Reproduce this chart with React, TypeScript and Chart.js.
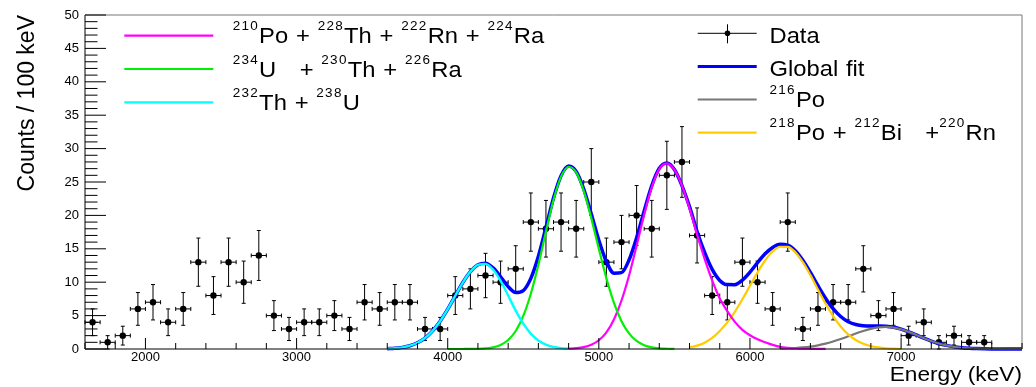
import React, { useEffect, useRef } from "react";
import { Chart, registerables } from "chart.js";

Chart.register(...registerables);

// ---------------- data ----------------
const BIN_CENTERS = [
  1650, 1750, 1850, 1950, 2050, 2150, 2250, 2350, 2450, 2550, 2650, 2750, 2850, 2950, 3050,
  3150, 3250, 3350, 3450, 3550, 3650, 3750, 3850, 3950, 4050, 4150, 4250, 4350, 4450, 4550,
  4650, 4750, 4850, 4950, 5050, 5150, 5250, 5350, 5450, 5550, 5650, 5750, 5850, 5950, 6050,
  6150, 6250, 6350, 6450, 6550, 6650, 6750, 6850, 6950, 7050, 7150, 7250, 7350, 7450, 7550,
];
const COUNTS = [
  4, 1, 2, 6, 7, 4, 6, 13, 8, 13, 10, 14, 5, 3, 4,
  4, 5, 3, 7, 6, 7, 7, 3, 3, 8, 9, 11, 10, 12, 19,
  18, 19, 18, 25, 13, 16, 20, 18, 26, 28, 17, 8, 7, 13, 10,
  6, 19, 3, 6, 7, 7, 12, 5, 6, 2, 4, 1, 2, 1, 1,
];
const COUNT_ERRORS = [
  2, 1, 1.41, 2.45, 2.65, 2, 2.45, 3.61, 2.83, 3.61, 3.16, 3.74, 2.24, 1.73, 2,
  2, 2.24, 1.73, 2.65, 2.45, 2.65, 2.65, 1.73, 1.73, 2.83, 3, 3.32, 3.16, 3.46, 4.36,
  4.24, 4.36, 4.24, 5, 3.61, 4, 4.47, 4.24, 5.1, 5.29, 4.12, 2.83, 2.65, 3.61, 3.16,
  2.45, 4.36, 1.73, 2.45, 2.65, 2.65, 3.46, 2.24, 2.45, 1.41, 2, 1, 1.41, 1, 1,
];
const BIN_HALF_WIDTH = 50;

const FIT_ENERGY = [
  3600, 3650, 3700, 3750, 3800, 3850, 3900, 3950, 4000, 4050, 4100, 4150, 4200, 4250, 4300,
  4350, 4400, 4450, 4500, 4550, 4600, 4650, 4700, 4750, 4800, 4850, 4900, 4950, 5000, 5050,
  5100, 5150, 5200, 5250, 5300, 5350, 5400, 5450, 5500, 5550, 5600, 5650, 5700, 5750, 5800,
  5850, 5900, 5950, 6000, 6050, 6100, 6150, 6200, 6250, 6300, 6350, 6400, 6450, 6500, 6550,
  6600, 6650, 6700, 6750, 6800, 6850, 6900, 6950, 7000, 7050, 7100, 7150, 7200, 7250, 7300,
  7350, 7400, 7450, 7500, 7550, 7600, 7650, 7700, 7750, 7800,
];
const _ = null;
const FIT_GLOBAL = [
  0.05, 0.11, 0.24, 0.49, 0.93, 1.64, 2.71, 4.16, 5.96, 7.97, 9.95, 11.59, 12.61, 12.85, 12.15,
  10.81, 9.34, 8.45, 8.75, 10.57, 13.88, 18.21, 22.6, 25.93, 27.38, 26.56, 23.95, 20.22, 16.29, 13.09,
  11.35, 11.43, 13.33, 16.66, 20.67, 24.44, 27.05, 27.84, 26.86, 24.47, 21.31, 17.6, 14.45, 11.91, 10.27,
  9.64, 9.63, 10.31, 11.51, 12.92, 14.25, 15.21, 15.67, 15.55, 14.72, 13.28, 11.45, 9.47, 7.61, 6.03,
  4.86, 4.08, 3.66, 3.48, 3.45, 3.46, 3.41, 3.26, 2.97, 2.56, 2.1, 1.62, 1.19, 0.82, 0.54,
  0.33, 0.19, 0.11, 0.06, 0.03, 0.01, 0.005, 0.002, 0.001, 0,
];
const FIT_PO210 = [
  _, _, _, _, _, _, _, _, _, _, _, _, _, _, _,
  _, _, _, _, _, _, _, _, _, 0.045, 0.12, 0.28, 0.63, 1.31, 2.5,
  4.43, 7.26, 11.0, 15.46, 20.1, 24.19, 26.95, 27.8, 26.84, 24.47, 21.06, 17.1, 13.5, 10.26, 7.56,
  5.66, 4.06, 2.87, 2.05, 1.45, 1.0, 0.62, 0.32, 0.17, 0.09, 0.05, 0.03, 0.015, 0.01, _,
  _, _, _, _, _, _, _, _, _, _, _, _, _, _, _,
  _, _, _, _, _, _, _, _, _, _,
];
const FIT_U234 = [
  _, _, _, _, _, _, _, _, 0, 0, 0.003, 0.01, 0.03, 0.1, 0.25,
  0.61, 1.34, 2.7, 4.95, 8.27, 12.6, 17.56, 22.3, 25.8, 27.28, 26.44, 23.67, 19.59, 14.98, 10.59,
  6.92, 4.17, 2.33, 1.2, 0.57, 0.25, 0.1, 0.04, 0.015, _, _, _, _, _, _,
  _, _, _, _, _, _, _, _, _, _, _, _, _, _, _,
  _, _, _, _, _, _, _, _, _, _, _, _, _, _, _,
  _, _, _, _, _, _, _, _, _, _,
];
const FIT_TH232 = [
  0.05, 0.11, 0.24, 0.49, 0.93, 1.64, 2.71, 4.16, 5.96, 7.97, 9.95, 11.58, 12.58, 12.75, 11.9,
  10.2, 8.0, 5.75, 3.8, 2.3, 1.28, 0.65, 0.3, 0.13, 0.05, _, _, _, _, _,
  _, _, _, _, _, _, _, _, _, _, _, _, _, _, _,
  _, _, _, _, _, _, _, _, _, _, _, _, _, _, _,
  _, _, _, _, _, _, _, _, _, _, _, _, _, _, _,
  _, _, _, _, _, _, _, _, _, _,
];
const FIT_PO216 = [
  _, _, _, _, _, _, _, _, _, _, _, _, _, _, _,
  _, _, _, _, _, _, _, _, _, _, _, _, _, _, _,
  _, _, _, _, _, _, _, _, _, _, _, _, _, _, _,
  _, _, _, _, _, _, _, 0.04, 0.08, 0.14, 0.23, 0.36, 0.55, 0.8, 1.12,
  1.49, 1.9, 2.32, 2.7, 3.02, 3.23, 3.3, 3.21, 2.95, 2.56, 2.1, 1.62, 1.19, 0.82, 0.54,
  0.33, 0.19, 0.11, 0.06, 0.03, 0.01, 0.005, 0.002, 0.001, 0,
];
const FIT_PO218 = [
  _, _, _, _, _, _, _, _, _, _, _, _, _, _, _,
  _, _, _, _, _, _, _, _, _, _, _, _, _, _, _,
  _, _, _, _, _, _, _, _, _, _, 0.25, 0.5, 0.95, 1.65, 2.71,
  3.98, 5.57, 7.44, 9.46, 11.47, 13.25, 14.59, 15.31, 15.3, 14.49, 13.0, 11.06, 8.9, 6.8, 4.91,
  3.37, 2.18, 1.34, 0.78, 0.43, 0.23, 0.11, 0.05, 0.02, _, _, _, _, _, _,
  _, _, _, _, _, _, _, _, _, _,
];

const X_MIN = 1600;
const X_MAX = 7800;
const Y_MIN = 0;
const Y_MAX = 50;
const X_TICKS = [2000, 3000, 4000, 5000, 6000, 7000];
const Y_TICKS = [0, 5, 10, 15, 20, 25, 30, 35, 40, 45, 50];
const X_MINOR_STEP = 200;
const Y_MINOR_STEP = 1;

const X_TITLE = "Energy (keV)";
const Y_TITLE = "Counts / 100 keV";

const COLOR_PO210 = "#ff00ff";
const COLOR_U234 = "#00f000";
const COLOR_TH232 = "#00ffff";
const COLOR_GLOBAL = "#0000ff";
const COLOR_PO216 = "#777777";
const COLOR_PO218 = "#ffcc00";

const LEGEND_LEFT = [
  { label: "^{210}Po + ^{228}Th + ^{222}Rn + ^{224}Ra", color: COLOR_PO210 },
  { label: "^{234}U   + ^{230}Th + ^{226}Ra", color: COLOR_U234 },
  { label: "^{232}Th + ^{238}U", color: COLOR_TH232 },
];
const LEGEND_RIGHT = [
  { label: "Data", color: "#000000", data: true },
  { label: "Global fit", color: COLOR_GLOBAL, width: 3 },
  { label: "^{216}Po", color: COLOR_PO216 },
  { label: "^{218}Po + ^{212}Bi   +^{220}Rn", color: COLOR_PO218 },
];

// ---------------- helpers ----------------
const FONT = '"Liberation Sans", Arial, Helvetica, sans-serif';
const SX = 1.08;

function curvePoints(values: (number | null)[]) {
  const pts: { x: number; y: number }[] = [];
  values.forEach((v, i) => {
    if (v !== null) pts.push({ x: FIT_ENERGY[i], y: v });
  });
  return pts;
}

function parseLatex(s: string) {
  const parts: { t: string; sup: boolean }[] = [];
  const re = /\^\{([^}]*)\}/g;
  let last = 0;
  let m: RegExpExecArray | null;
  while ((m = re.exec(s))) {
    if (m.index > last) parts.push({ t: s.slice(last, m.index), sup: false });
    parts.push({ t: m[1], sup: true });
    last = re.lastIndex;
  }
  if (last < s.length) parts.push({ t: s.slice(last), sup: false });
  return parts;
}

function drawLatex(ctx: CanvasRenderingContext2D, s: string, x: number, y: number, size: number) {
  const parts = parseLatex(s);
  ctx.save();
  ctx.translate(x, y);
  ctx.scale(SX, 1);
  ctx.textAlign = "left";
  ctx.textBaseline = "alphabetic";
  ctx.fillStyle = "#000";
  let cx = 0;
  for (const p of parts) {
    if (p.sup) {
      ctx.font = `12.5px ${FONT}`;
      (ctx as any).letterSpacing = "1.2px";
      (ctx as any).wordSpacing = "0px";
      ctx.fillText(p.t, cx, -13);
    } else {
      ctx.font = `${size}px ${FONT}`;
      (ctx as any).letterSpacing = "0px";
      (ctx as any).wordSpacing = "1.1px";
      ctx.fillText(p.t, cx, 0);
    }
    cx += ctx.measureText(p.t).width;
  }
  ctx.restore();
}

const rootPlugin = {
  id: "rootStyle",
  beforeDatasetDraw(chart: any, args: any) {
    if (args.index !== 0) return;
    const ctx: CanvasRenderingContext2D = chart.ctx;
    const xs = chart.scales.x;
    const ys = chart.scales.y;
    const cap = 2;
    ctx.save();
    ctx.strokeStyle = "#000";
    ctx.lineWidth = 1;
    ctx.beginPath();
    for (let i = 0; i < BIN_CENTERS.length; i++) {
      const cx = xs.getPixelForValue(BIN_CENTERS[i]);
      const cy = ys.getPixelForValue(COUNTS[i]);
      const xl = xs.getPixelForValue(BIN_CENTERS[i] - BIN_HALF_WIDTH);
      const xr = xs.getPixelForValue(BIN_CENTERS[i] + BIN_HALF_WIDTH);
      const yt = ys.getPixelForValue(COUNTS[i] + COUNT_ERRORS[i]);
      const yb = ys.getPixelForValue(Math.max(0, COUNTS[i] - COUNT_ERRORS[i]));
      ctx.moveTo(xl, cy);
      ctx.lineTo(xr, cy);
      ctx.moveTo(xl, cy - cap);
      ctx.lineTo(xl, cy + cap);
      ctx.moveTo(xr, cy - cap);
      ctx.lineTo(xr, cy + cap);
      ctx.moveTo(cx, yt);
      ctx.lineTo(cx, yb);
      ctx.moveTo(cx - cap, yt);
      ctx.lineTo(cx + cap, yt);
      ctx.moveTo(cx - cap, yb);
      ctx.lineTo(cx + cap, yb);
    }
    ctx.stroke();
    ctx.restore();
  },
  afterDraw(chart: any) {
    const ctx: CanvasRenderingContext2D = chart.ctx;
    const { left, right, top, bottom } = chart.chartArea;
    const xs = chart.scales.x;
    const ys = chart.scales.y;
    ctx.save();
    // frame
    ctx.strokeStyle = "#000";
    ctx.lineWidth = 1;
    ctx.beginPath();
    ctx.moveTo(left, top);
    ctx.lineTo(left, bottom);
    ctx.lineTo(right, bottom);
    ctx.stroke();
    ctx.strokeStyle = "#777";
    ctx.beginPath();
    ctx.moveTo(left, top);
    ctx.lineTo(right, top);
    ctx.lineTo(right, bottom);
    ctx.stroke();
    // ticks
    ctx.strokeStyle = "#000";
    ctx.beginPath();
    for (let v = Y_MIN; v <= Y_MAX; v += Y_MINOR_STEP) {
      const p = ys.getPixelForValue(v);
      const len = Y_TICKS.includes(v) ? 21 : 12.5;
      ctx.moveTo(left, p);
      ctx.lineTo(left + len, p);
    }
    for (let v = X_MIN; v <= X_MAX; v += X_MINOR_STEP) {
      const p = xs.getPixelForValue(v);
      const len = X_TICKS.includes(v) ? 11 : 6;
      ctx.moveTo(p, bottom);
      ctx.lineTo(p, bottom - len);
    }
    ctx.stroke();

    // axis titles
    ctx.fillStyle = "#000";
    ctx.font = `21px ${FONT}`;
    ctx.textBaseline = "alphabetic";
    ctx.save();
    ctx.translate(right, 381);
    ctx.scale(SX, 1);
    ctx.textAlign = "right";
    ctx.fillText(X_TITLE, 0, 0);
    ctx.restore();

    ctx.save();
    ctx.translate(33.5, top);
    ctx.rotate(-Math.PI / 2);
    ctx.scale(1, SX);
    ctx.font = `23px ${FONT}`;
    ctx.textAlign = "right";
    ctx.fillText(Y_TITLE, 0, 0);
    ctx.restore();

    // left legend
    LEGEND_LEFT.forEach((e, i) => {
      const y = 35.7 + i * 33.3;
      ctx.strokeStyle = e.color;
      ctx.lineWidth = 2.2;
      ctx.beginPath();
      ctx.moveTo(124.3, y);
      ctx.lineTo(213.3, y);
      ctx.stroke();
      drawLatex(ctx, e.label, 232.7, y + (e.label.includes("^{") ? 7.6 : 9.8), 22);
    });
    // right legend
    LEGEND_RIGHT.forEach((e: any, i) => {
      const y = 33.3 + i * 33.1;
      ctx.strokeStyle = e.color;
      ctx.lineWidth = e.data ? 1 : e.width || 2.2;
      ctx.beginPath();
      ctx.moveTo(697.7, y);
      ctx.lineTo(756.7, y);
      if (e.data) {
        ctx.moveTo(727.5, y - 9);
        ctx.lineTo(727.5, y + 10);
      }
      ctx.stroke();
      if (e.data) {
        ctx.fillStyle = "#000";
        ctx.beginPath();
        ctx.arc(727.5, y, 2.8, 0, Math.PI * 2);
        ctx.fill();
      }
      drawLatex(ctx, e.label, 769.5, y + (e.label.includes("^{") ? 7 : 9.8), 22);
    });
    ctx.restore();
  },
};

function lineDataset(label: string, values: (number | null)[], color: string, width: number, order: number) {
  return {
    type: "line" as const,
    label,
    data: curvePoints(values),
    borderColor: color,
    backgroundColor: color,
    borderWidth: width,
    pointRadius: 0,
    fill: false,
    showLine: true,
    cubicInterpolationMode: "monotone" as const,
    clip: false as any,
    order,
  };
}

export default function App() {
  const ref = useRef<HTMLCanvasElement>(null);
  useEffect(() => {
    document.body.style.margin = "0";
    const canvas = ref.current!;
    const chart = new Chart(canvas, {
      type: "line",
      data: {
        datasets: [
          {
            type: "line",
            label: "Data",
            data: BIN_CENTERS.map((x, i) => ({ x, y: COUNTS[i] })),
            showLine: false,
            pointRadius: 3.2,
            pointBackgroundColor: "#000",
            pointBorderWidth: 0,
            borderColor: "#000",
            order: 10,
          } as any,
          lineDataset("Global fit", FIT_GLOBAL, COLOR_GLOBAL, 3.5, 6),
          lineDataset("216Po", FIT_PO216, COLOR_PO216, 2.2, 5),
          lineDataset("218Po + 212Bi + 220Rn", FIT_PO218, COLOR_PO218, 2.2, 4),
          lineDataset("210Po + 228Th + 222Rn + 224Ra", FIT_PO210, COLOR_PO210, 2.2, 3),
          lineDataset("234U + 230Th + 226Ra", FIT_U234, COLOR_U234, 2.2, 2),
          lineDataset("232Th + 238U", FIT_TH232, COLOR_TH232, 2.4, 1),
        ],
      },
      options: {
        responsive: false,
        maintainAspectRatio: false,
        devicePixelRatio: 1,
        animation: false,
        events: [],
        layout: { padding: { left: 0, top: 15, right: 14, bottom: 0 } },
        plugins: { legend: { display: false }, tooltip: { enabled: false } },
        scales: {
          x: {
            type: "linear",
            min: X_MIN,
            max: X_MAX,
            grid: { display: false, drawTicks: false },
            border: { display: false },
            afterBuildTicks: (s: any) => {
              s.ticks = X_TICKS.map((value) => ({ value }));
            },
            afterFit: (s: any) => {
              s.height = 38;
            },
            ticks: {
              autoSkip: false,
              maxRotation: 0,
              padding: 1,
              color: "#000",
              font: { family: FONT, size: 13 },
              callback: (v: any) => String(v),
            },
          },
          y: {
            type: "linear",
            min: Y_MIN,
            max: Y_MAX,
            grid: { display: false, drawTicks: false },
            border: { display: false },
            afterBuildTicks: (s: any) => {
              s.ticks = Y_TICKS.map((value) => ({ value }));
            },
            afterFit: (s: any) => {
              s.width = 85;
            },
            ticks: {
              autoSkip: false,
              padding: 6,
              color: "#000",
              font: { family: FONT, size: 13 },
              callback: (v: any) => String(v),
            },
          },
        },
      },
      plugins: [rootPlugin],
    } as any);
    return () => chart.destroy();
  }, []);
  return <canvas ref={ref} width={1036} height={387} style={{ display: "block", width: 1036, height: 387 }} />;
}
